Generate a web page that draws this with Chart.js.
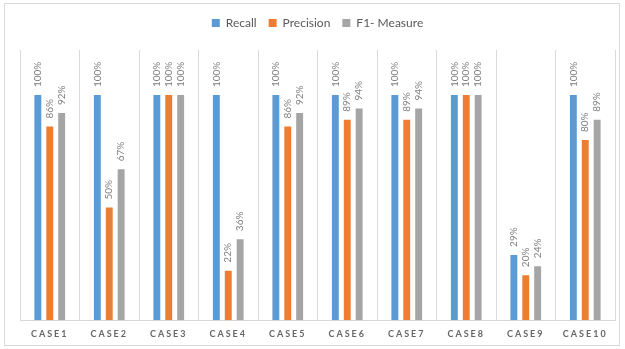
<!DOCTYPE html>
<html>
<head>
<meta charset="utf-8">
<script src="https://cdn.jsdelivr.net/npm/chart.js@4/dist/chart.umd.min.js"></script>
<style>
  html, body { margin: 0; padding: 0; background: #fff; }
  #wrap { width: 625px; height: 349px; position: relative; }
</style>
</head>
<body>
<div id="wrap"><canvas id="chart" width="625" height="349"></canvas></div>
<script>
// Data
const cases = ['CASE1', 'CASE2', 'CASE3', 'CASE4', 'CASE5', 'CASE6', 'CASE7', 'CASE8', 'CASE9', 'CASE10'];
const recall = [100, 100, 100, 100, 100, 100, 100, 100, 29, 100];
const precision = [86, 50, 100, 22, 86, 89, 89, 100, 20, 80];
const f1Measure = [92, 67, 100, 36, 92, 94, 94, 100, 24, 89];

const FONT = 'Lato, "Open Sans", sans-serif';

// outer frame around the whole chart
const framePlugin = {
    id: 'frame',
    beforeDraw(chart) {
        const c = chart.ctx;
        c.save();
        c.strokeStyle = '#d9d9d9';
        c.lineWidth = 1;
        c.strokeRect(4.5, 3.5, 615, 342);
        c.restore();
    }
};

// extra room under the legend
const legendGap = {
    id: 'legendGap',
    beforeInit(chart) {
        const origFit = chart.legend.fit;
        chart.legend.fit = function () {
            origFit.bind(chart.legend)();
            this.height += 11;
        };
    }
};

// letter-spaced category labels
const spacedTicks = {
    id: 'spacedTicks',
    afterLayout(chart) {
        const s = chart.scales.x;
        if (s && !s._spaced) {
            const orig = s.drawLabels.bind(s);
            s.drawLabels = function (area) {
                const c = this.ctx;
                c.save();
                c.letterSpacing = '2px';
                orig(area);
                c.restore();
            };
            s._spaced = true;
        }
    }
};

// rotated value labels above bars
const valueLabels = {
    id: 'valueLabels',
    afterDatasetsDraw(chart) {
        const c = chart.ctx;
        c.save();
        c.font = '10px ' + FONT;
        c.fillStyle = '#7f7f7f';
        c.textAlign = 'left';
        c.textBaseline = 'middle';
        chart.data.datasets.forEach((ds, i) => {
            chart.getDatasetMeta(i).data.forEach((bar, j) => {
                c.save();
                c.translate(bar.x, bar.y - 8);
                c.rotate(-Math.PI / 2);
                c.fillText(ds.data[j] + '%', 0, 0);
                c.restore();
            });
        });
        c.restore();
    }
};

new Chart(document.getElementById('chart'), {
    type: 'bar',
    data: {
        labels: cases,
        datasets: [
            { label: 'Recall', data: recall, backgroundColor: '#5b9bd5' },
            { label: 'Precision', data: precision, backgroundColor: '#ed7d31' },
            { label: 'F1- Measure', data: f1Measure, backgroundColor: '#a5a5a5' }
        ]
    },
    options: {
        responsive: false,
        animation: false,
        datasets: {
            bar: { categoryPercentage: 0.6, barPercentage: 0.58 }
        },
        layout: { padding: { left: 20, right: 10, top: 5, bottom: 2 } },
        plugins: {
            legend: {
                position: 'top',
                labels: {
                    boxWidth: 8,
                    boxHeight: 8,
                    padding: 12,
                    color: '#595959',
                    font: { family: FONT, size: 12 }
                }
            },
            tooltip: { enabled: false }
        },
        scales: {
            x: {
                grid: { color: '#d9d9d9', offset: true, drawTicks: false },
                border: { color: '#d9d9d9' },
                ticks: {
                    color: '#666666',
                    padding: 8,
                    maxRotation: 0,
                    font: { family: FONT, size: 9, weight: 'bold' }
                }
            },
            y: {
                display: false,
                min: 0,
                max: 120
            }
        }
    },
    plugins: [framePlugin, legendGap, spacedTicks, valueLabels]
});
</script>
</body>
</html>
